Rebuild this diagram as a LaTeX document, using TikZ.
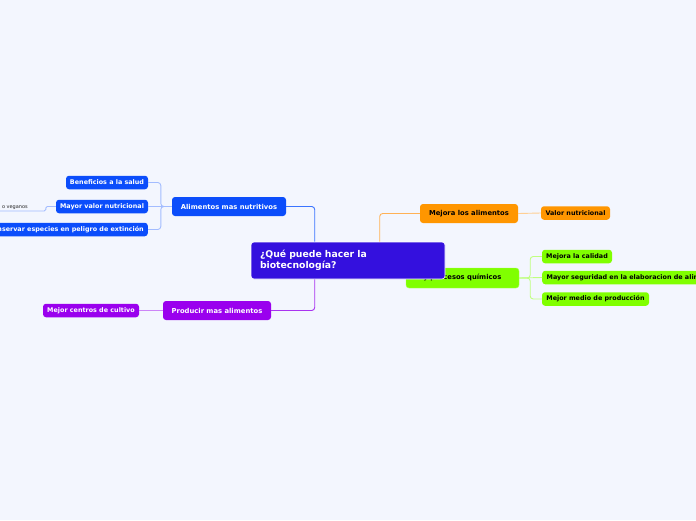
\documentclass[tikz,border=0pt]{standalone}
\usepackage{fontspec}
\setmainfont{DejaVu Sans}
\definecolor{bg}{HTML}{F3F6FE}
\definecolor{cen}{HTML}{3410DE}
\definecolor{blu}{HTML}{0B4DFB}
\definecolor{blul}{HTML}{A3BCFF}
\definecolor{blum}{HTML}{3A74FF}
\definecolor{pur}{HTML}{9A00EE}
\definecolor{purl}{HTML}{CC85F7}
\definecolor{pum}{HTML}{A933F0}
\definecolor{org}{HTML}{FF9600}
\definecolor{orgl}{HTML}{FFCF94}
\definecolor{orm}{HTML}{FFB155}
\definecolor{grn}{HTML}{80FF00}
\definecolor{grnl}{HTML}{C0FF80}
\tikzset{
  box/.style={rounded corners=3pt, inner xsep=3pt, inner ysep=0pt, font=\bfseries},
  big/.style={box, minimum height=19pt, font=\fontsize{6.8}{8}\selectfont\bfseries},
  small/.style={box, minimum height=13.5pt, font=\fontsize{6.4}{8}\selectfont\bfseries},
  lnk/.style={line width=0.9pt, rounded corners=3pt},
}
\begin{document}
\begin{tikzpicture}[x=1pt,y=-1pt]
\useasboundingbox (0,0) rectangle (696,520);
\fill[bg] (0,0) rectangle (696,520);

% green branch (behind central node)
\node[big, fill=grn, draw=grn!70!white, text=black, minimum width=113pt, minimum height=20pt] (grn) at (462.5,278) {y procesos químicos};
\node[small, fill=grn, text=black, minimum width=70pt] (cal) at (577,256.5) {Mejora la calidad};
\node[small, fill=grn, text=black, anchor=west, inner xsep=4.5pt] (seg) at (542,277.5) {Mayor seguridad en la elaboracion de alimentos};
\node[small, fill=grn, text=black, minimum width=107pt] (med) at (595.5,299) {Mejor medio de producción};
\draw[lnk, grnl] (grn.east) -- ++(11,0) |- (cal.west);
\draw[lnk, grnl] (grn.east) -- (seg.west);
\draw[lnk, grnl] (grn.east) -- ++(11,0) |- (med.west);

% central
\node[box, fill=cen, draw=white, line width=0.6pt, text=white, minimum width=194pt, minimum height=37pt, text width=176pt, align=left, inner xsep=9pt, font=\fontsize{9.3}{11.5}\selectfont\bfseries] (cen) at (348,260.5) {¿Qué puede hacer la\\biotecnología?};

% blue branch
\node[big, fill=blu, text=white, minimum width=114pt] (ali) at (229,206.5) {Alimentos mas nutritivos};
\node[small, fill=blu, text=white, minimum width=82pt] (ben) at (107,182.5) {Beneficios a la salud};
\node[small, fill=blu, text=white, minimum width=92pt] (may) at (102,206.5) {Mayor valor nutricional};
\node[small, fill=blu, text=white, anchor=east, inner xsep=4pt] (con) at (148,229.5) {Conservar especies en peligro de extinción};
\node[anchor=base east, inner sep=0pt, font=\fontsize{5}{6}\selectfont, text=black!85] (veg) at (28,208.3) {o veganos};
\coordinate (vegend) at (0,211);
\draw[lnk, blum] (ali.east) -| ([xshift=64pt]cen.north west);
\draw[lnk, blul] (ali.west) -- ++(-11,0) |- (ben.east);
\draw[lnk, blul] (ali.west) -- (may.east);
\draw[lnk, blul] (ali.west) -- ++(-11,0) |- (con.east);
\draw[lnk, blul, rounded corners=1.5pt] (may.west) -- ++(-10,0) |- (vegend);

% purple branch
\node[big, fill=pur, text=white, minimum width=108pt] (pro) at (217,310.5) {Producir mas alimentos};
\node[small, fill=pur, text=white, minimum width=96pt] (cul) at (91,310.5) {Mejor centros de cultivo};
\draw[lnk, pum] ([xshift=64pt]cen.south west) |- (pro.east);
\draw[lnk, purl] (pro.west) -- (cul.east);

% orange branch
\node[big, fill=org, text=black, minimum width=98pt] (mej) at (469,213.5) {Mejora los alimentos};
\node[small, fill=org, text=black, minimum width=69pt] (val) at (575.5,213) {Valor nutricional};
\draw[lnk, orm] ([xshift=129pt]cen.north west) |- (mej.west);
\draw[lnk, orgl] (mej.east) -- (val.west);
\end{tikzpicture}
\end{document}
